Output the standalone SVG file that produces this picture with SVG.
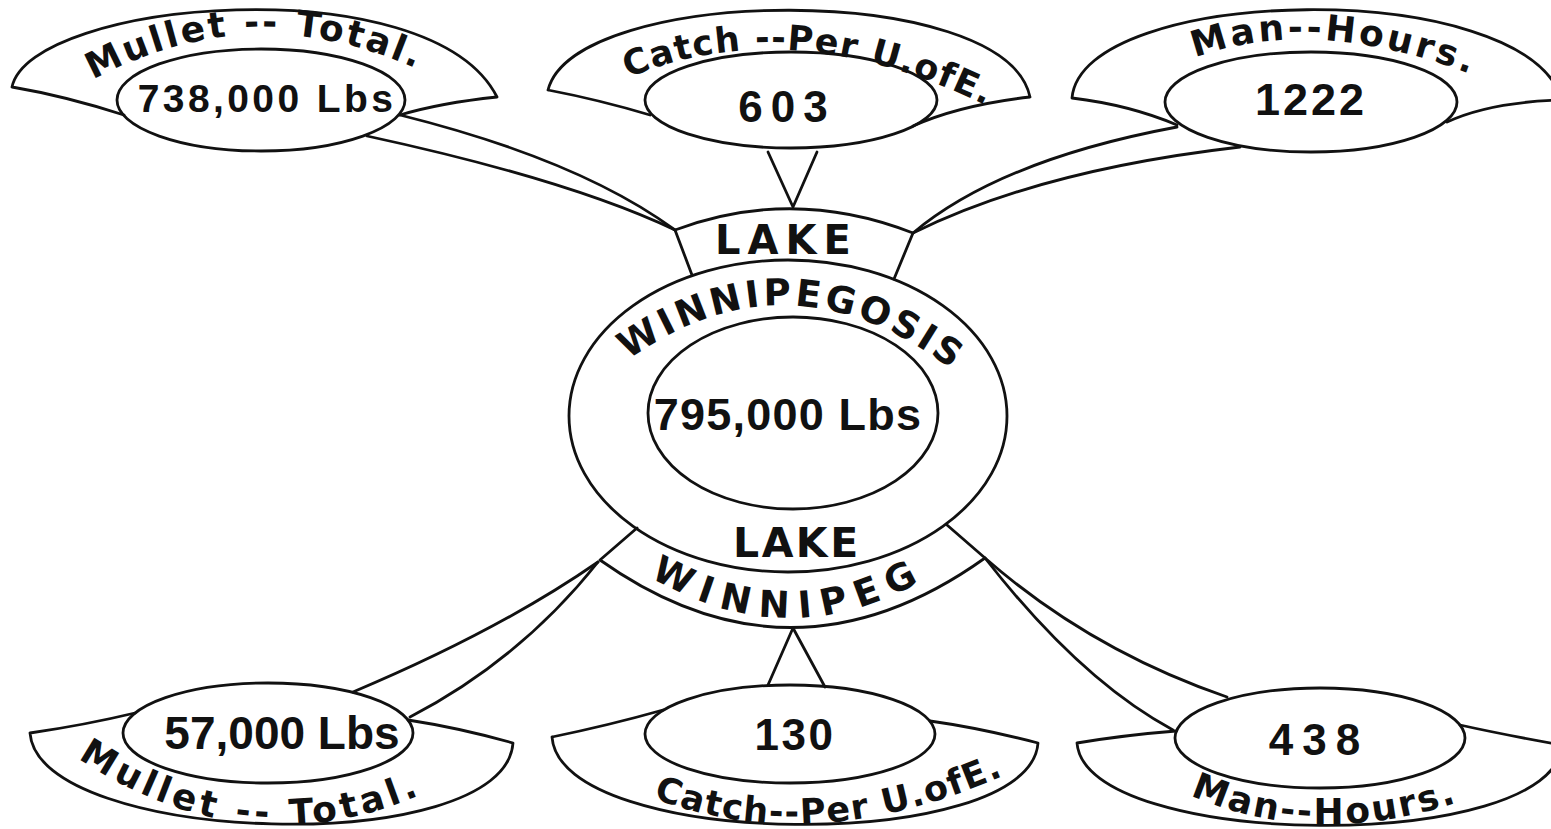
<svg xmlns="http://www.w3.org/2000/svg" width="1551" height="829" viewBox="0 0 1551 829">
<style>
.s{fill:none;stroke:#111;stroke-width:2.8;stroke-linejoin:round;stroke-linecap:round}
.w{font-family:"DejaVu Sans",sans-serif;font-weight:bold;fill:#111}
.n{font-family:"Liberation Sans",Arial,sans-serif;font-weight:bold;fill:#111;text-anchor:middle}
</style>
<defs>
<path id="p1" d="M 93,80 Q 250,-5 415,68"/>
<path id="p2" d="M 628,78 Q 790,10 985,105"/>
<path id="p3" d="M 1195,58 Q 1310,15 1465,72"/>
<path id="p4" d="M 78,758 Q 245,870 420,795"/>
<path id="p5" d="M 653,798 Q 820,862 1020,768"/>
<path id="p6" d="M 1190,795 Q 1320,852 1470,798"/>
<path id="p7" d="M 628,360 Q 790,245 955,372"/>
<path id="p8" d="M 650,577 Q 785,655 916,584"/>
</defs>
<rect width="1551" height="829" fill="#fff"/>
<g id="connectors" class="s">
<path d="M 400,115 Q 580,160 675,230"/>
<path d="M 367,136 Q 570,180 675,230"/>
<path d="M 768,152 L 793,207 L 817,152"/>
<path d="M 1177,127 Q 1000,160 913,233"/>
<path d="M 1240,147 Q 1040,170 913,233"/>
<path d="M 353,692 Q 500,630 598,562"/>
<path d="M 410,717 Q 520,660 598,562"/>
<path d="M 768,685 L 793,628 L 825,687"/>
<path d="M 985,558 Q 1090,650 1227,697"/>
<path d="M 985,558 Q 1080,680 1173,730"/>
</g>
<g id="node-top-left">
<path class="s" d="M 12,87 C 30,0 430,-35 497,97 Q 440,103 400,115 M 12,87 Q 65,96 124,115"/>
<ellipse class="s" cx="261" cy="100" rx="144" ry="51"/>
<text class="w" font-size="36" letter-spacing="2.7"><textPath href="#p1">Mullet -- Total.</textPath></text>
<text class="n" x="267" y="112" font-size="39" letter-spacing="3.4">738,000 Lbs</text>
</g>
<g id="node-top-middle">
<path class="s" d="M 548,90 C 575,-15 1005,-20 1030,97 Q 960,105 913,126 M 548,90 Q 600,100 650,115"/>
<ellipse class="s" cx="791" cy="100" rx="146" ry="48"/>
<text class="w" font-size="35" letter-spacing="1.2"><textPath href="#p2">Catch --Per U.ofE.</textPath></text>
<text class="n" x="787" y="122" font-size="44" letter-spacing="8">603</text>
</g>
<g id="node-top-right">
<path class="s" d="M 1072,98 C 1082,-15 1525,-25 1562,100 Q 1490,102 1447,122 M 1072,98 Q 1130,105 1177,125"/>
<ellipse class="s" cx="1311" cy="102" rx="146" ry="50"/>
<text class="w" font-size="36" letter-spacing="3.2"><textPath href="#p3">Man--Hours.</textPath></text>
<text class="n" x="1311" y="115" font-size="45" letter-spacing="3">1222</text>
</g>
<g id="node-center">
<ellipse class="s" cx="788" cy="416" rx="219" ry="156"/>
<ellipse class="s" cx="793" cy="413" rx="145" ry="96"/>
<path class="s" d="M 692,275 L 675,230 Q 793,186 913,233 L 894,279"/>
<path class="s" d="M 637,528 L 600,560 Q 792,696 985,558 L 947,525"/>
<text class="w" x="715" y="254" font-size="40" letter-spacing="7">LAKE</text>
<text class="w" font-size="37" letter-spacing="3.5"><textPath href="#p7">WINNIPEGOSIS</textPath></text>
<text class="n" x="788" y="430" font-size="45" letter-spacing="1.2">795,000 Lbs</text>
<text class="w" x="733" y="557" font-size="41" letter-spacing="2.5">LAKE</text>
<text class="w" font-size="37" letter-spacing="10"><textPath href="#p8">WINNIPEG</textPath></text>
</g>
<g id="node-bottom-left">
<path class="s" d="M 30,733 C 38,845 505,860 513,743 Q 460,728 408,720 M 30,733 Q 85,725 135,713"/>
<ellipse class="s" cx="268" cy="733" rx="145" ry="50"/>
<text class="n" x="282" y="749" font-size="46">57,000 Lbs</text>
<text class="w" font-size="36" letter-spacing="4.3"><textPath href="#p4">Mullet -- Total.</textPath></text>
</g>
<g id="node-bottom-middle">
<path class="s" d="M 552,737 C 560,850 1030,855 1038,743 Q 980,728 930,721 M 552,737 Q 610,725 663,710"/>
<ellipse class="s" cx="790" cy="734" rx="145" ry="49"/>
<text class="n" x="795" y="750" font-size="44" letter-spacing="2.5">130</text>
<text class="w" font-size="35" letter-spacing="1.4"><textPath href="#p5">Catch--Per U.ofE.</textPath></text>
</g>
<g id="node-bottom-right">
<path class="s" d="M 1077,743 C 1085,850 1555,855 1562,745 Q 1505,735 1460,725 M 1077,743 Q 1125,735 1176,731"/>
<ellipse class="s" cx="1320" cy="738" rx="145" ry="50"/>
<text class="n" x="1319" y="755" font-size="44" letter-spacing="9">438</text>
<text class="w" font-size="36" letter-spacing="2.4"><textPath href="#p6">Man--Hours.</textPath></text>
</g>
</svg>
